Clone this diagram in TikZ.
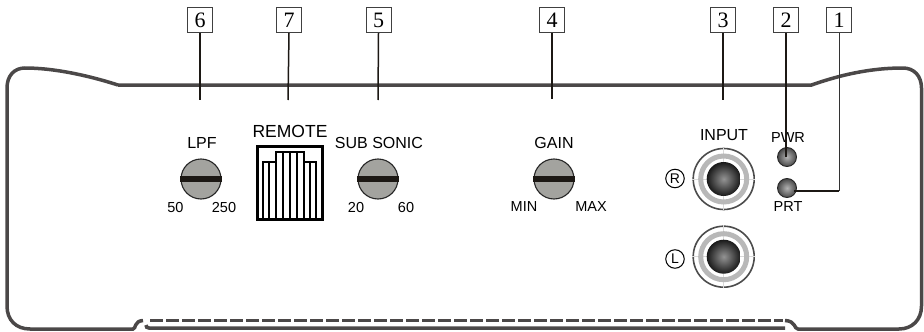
\documentclass[tikz,border=0pt]{standalone}
\usepackage{fontspec}
\setmainfont{Liberation Sans}
\newfontfamily\numfont{Liberation Serif}
\definecolor{bodyline}{HTML}{4B4848}
\definecolor{knobgray}{HTML}{A3A39F}
\definecolor{slotblack}{HTML}{1C1814}
\tikzset{
  numbox/.style={draw=black!75, line width=1pt, fill=white, minimum size=25pt, inner sep=0pt, font=\numfont\fontsize{22}{22}\selectfont},
  leader/.style={line width=1.5pt, slotblack},
  outline/.style={line width=3.5pt, bodyline},
  knob/.style={circle, draw=black!85, line width=1.1pt, fill=knobgray, minimum size=40pt, inner sep=0pt},
  slot/.style={line width=6pt, slotblack},
  lab/.style={inner sep=0pt, font=\fontsize{16}{16}\selectfont},
  smalllab/.style={inner sep=0pt, font=\fontsize{14.5}{14.5}\selectfont},
  jackrim/.style={circle, draw=black!70, line width=1.6pt, fill=white, minimum size=61pt, inner sep=0pt},
  jackring/.style={circle, draw=black!28, line width=5pt, minimum size=46pt, inner sep=0pt},
  jackball/.style={circle, inner color=black!42, outer color=black!90, minimum size=34pt, inner sep=0pt},
  led/.style={circle, draw=black!85, line width=0.9pt, inner color=black!30, outer color=black!72, minimum size=19pt, inner sep=0pt},
  chan/.style={circle, draw=black, line width=1pt, minimum size=18.5pt, inner sep=0pt, font=\fontsize{14}{14}\selectfont},
  bar/.style={line width=1.4pt, black},
}
\begin{document}
\begin{tikzpicture}[x=1pt,y=-1pt]
\useasboundingbox (0,0) rectangle (924,332);
% body
\draw[outline] (118,85) .. controls (90,76) and (55,68) .. (25,68)
  .. controls (14,68) and (7,76) .. (7,88) -- (7,306)
  .. controls (7,320) and (16,329) .. (30,329) -- (133,329)
  .. controls (136,329) and (134,321) .. (143,320.5);
\draw[outline] (118,85) -- (811.5,85) .. controls (840,75) and (870,68) .. (903,68)
  .. controls (914,68) and (921.5,76) .. (921.5,88) -- (921.5,306)
  .. controls (921.5,320) and (912,329) .. (899,329) -- (798,329)
  .. controls (794,329) and (796,321) .. (785,320.5);
\draw[outline] (146,325) .. controls (146,327) and (147,328) .. (149,328) -- (785,328);
\draw[outline, dash pattern=on 13pt off 3pt] (150,320.5) -- (783,320.5);
% number boxes
\node[numbox] (box6) at (200,20) {6};
\node[numbox] (box7) at (289,20) {7};
\node[numbox] (box5) at (378.5,20) {5};
\node[numbox] (box4) at (552,20) {4};
\node[numbox] (box3) at (723,20) {3};
\node[numbox] (box2) at (786,20) {2};
\node[numbox] (box1) at (839,20) {1};
% knobs
\node[knob] (lpf) at (201,179) {};
\node[knob] (subsonic) at (378,179) {};
\node[knob] (gain) at (554,179) {};
\foreach \k in {lpf,subsonic,gain}
  \draw[slot] (\k.west) -- (\k.east);
% remote socket
\draw[line width=3pt, black] (257,146) rectangle (322,219);
\draw[bar] (263,218) -- (263,162) -- (276,162) -- (276,152) -- (304,152) -- (304,162) -- (316,162) -- (316,218);
\foreach \x in {269,283,290,297,310}
  \draw[bar] (\x,\ifnum\x<276 162\else\ifnum\x>304 162\else 152\fi\fi) -- (\x,218);
\draw[bar] (276,162) -- (276,218);
\draw[bar] (304,162) -- (304,218);
% input jacks
\foreach \n/\y in {jackr/179,jackl/256.7}{
  \node[jackrim] (\n) at (723.7,\y) {};
  \draw[black!15, line width=0.5pt] (\n.west) -- (\n.east) (\n.north) -- (\n.south);
  \node[jackring] (\n ring) at (723.7,\y) {};
  \node[jackball] (\n ball) at (723.7,\y) {};
}
\node[chan] (chanr) at (675,178.5) {R};
\node[chan] (chanl) at (675,259) {L};
% leds
\node[led] (pwr) at (787,157) {};
\node[led] (prt) at (787,188) {};
% labels
\node[lab] (lpflab) at (202,143) {LPF};
\node[smalllab] (lpflow) at (175.5,208) {50};
\node[smalllab] (lpfhigh) at (224,208) {250};
\node[lab, font=\fontsize{17.5}{17.5}\selectfont] (remotelab) at (290,131) {REMOTE};
\node[lab] (subsoniclab) at (379,143) {SUB SONIC};
\node[smalllab] (sublow) at (356,208) {20};
\node[smalllab] (subhigh) at (406,208) {60};
\node[lab] (gainlab) at (554,143) {GAIN};
\node[smalllab] (gainlow) at (524,207) {MIN};
\node[smalllab] (gainhigh) at (591,207) {MAX};
\node[lab] (inputlab) at (724,135) {INPUT};
\node[smalllab] (pwrlab) at (788,138) {PWR};
\node[smalllab] (prtlab) at (788,207) {PRT};
% leaders
\coordinate (end6) at (200,100);
\coordinate (end7) at (288,100);
\coordinate (end5) at (378,100);
\coordinate (end4) at (552,99);
\coordinate (end3) at (723,100);
\coordinate (end2) at (786,157);
\coordinate (bend1) at (839,190.5);
\coordinate (end1) at (794,190.5);
\draw[leader] (box6.south) -- (end6);
\draw[leader] (box7.south) -- (end7);
\draw[leader] (box5.south) -- (end5);
\draw[leader] (box4.south) -- (end4);
\draw[leader] (box3.south) -- (end3);
\draw[leader] (box2.south) -- (end2);
\draw[line width=0.8pt, black!80] (box1.south) -- (bend1);
\draw[line width=2pt, slotblack] (bend1) -- (end1);
\end{tikzpicture}
\end{document}
